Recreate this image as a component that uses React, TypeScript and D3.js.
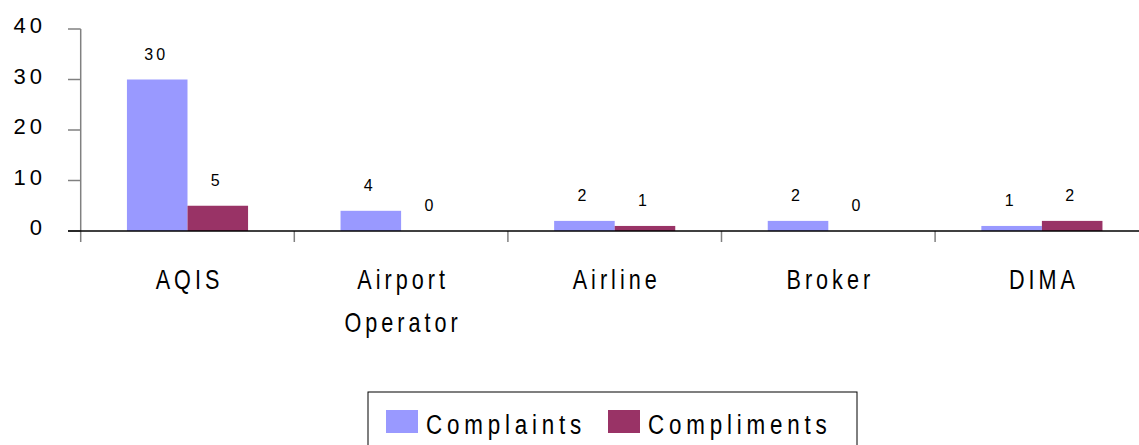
import * as d3 from "d3";
import { useRef, useEffect } from "react";

const categories = ["AQIS", "Airport\nOperator", "Airline", "Broker", "DIMA"];
const seriesNames = ["Complaints", "Compliments"];
const complaints = [30, 4, 2, 2, 1];
const compliments = [5, 0, 1, 0, 2];
const yTicks = [0, 10, 20, 30, 40];

const colors = ["#9999FF", "#993366"];
const fontFamily = "'Liberation Sans', Arial, sans-serif";
const squeeze = 0.8;

export default function App() {
  const width = 1139;
  const height = 445;
  const marginLeft = 80.7;
  const plotRight = 1148.7;
  const yTop = 29;
  const yBottom = 231;

  const ref = useRef(null);

  useEffect((): void => {
    if (!ref.current) return;
    const svg = d3.select(ref.current);
    svg.selectAll("*").remove();
    svg.attr("width", width).attr("height", height).attr("viewBox", [0, 0, width, height]);

    const x0 = d3.scaleBand<string>().domain(categories).range([marginLeft, plotRight]).padding(0);
    const step = x0.step();
    const groupWidth = step * 0.567;
    const x1 = d3
      .scaleBand<string>()
      .domain(seriesNames)
      .range([(step - groupWidth) / 2, (step + groupWidth) / 2]);

    const y = d3.scaleLinear().domain([0, 40]).range([yBottom, yTop]);

    const rows = categories.map((c, i) => ({ cat: c, values: [complaints[i], compliments[i]] }));

    // bars
    const groups = svg
      .append("g")
      .selectAll("g")
      .data(rows)
      .join("g")
      .attr("transform", (d) => `translate(${x0(d.cat)},0)`);

    groups
      .selectAll("rect")
      .data((d) => d.values.map((v, i) => ({ v, s: seriesNames[i], i })))
      .join("rect")
      .attr("x", (d) => x1(d.s)!)
      .attr("width", x1.bandwidth())
      .attr("y", (d) => y(d.v))
      .attr("height", (d) => yBottom - y(d.v))
      .attr("fill", (d) => colors[d.i]);

    // data labels
    groups
      .selectAll("text")
      .data((d) => d.values.map((v, i) => ({ v, s: seriesNames[i] })))
      .join("text")
      .attr("x", (d) => x1(d.s)! + x1.bandwidth() / 2 - 1)
      .attr("y", (d) => y(d.v) - 20)
      .attr("text-anchor", "middle")
      .attr("font-family", fontFamily)
      .attr("font-size", 16)
      .attr("letter-spacing", 3)
      .attr("fill", "#000")
      .text((d) => d.v);

    // y axis
    const yAxis = svg.append("g");
    yAxis
      .append("line")
      .attr("x1", marginLeft)
      .attr("x2", marginLeft)
      .attr("y1", yTop)
      .attr("y2", yBottom + 11)
      .attr("stroke", "#808080")
      .attr("stroke-width", 1.5);
    yAxis
      .selectAll("line.tick")
      .data(yTicks)
      .join("line")
      .attr("class", "tick")
      .attr("x1", 68)
      .attr("x2", marginLeft)
      .attr("y1", (d) => y(d))
      .attr("y2", (d) => y(d))
      .attr("stroke", "#808080")
      .attr("stroke-width", 1.5);
    yAxis
      .selectAll("text")
      .data(yTicks)
      .join("text")
      .attr("x", 46)
      .attr("y", (d) => y(d) + 4)
      .attr("text-anchor", "end")
      .attr("font-family", fontFamily)
      .attr("font-size", 22)
      .attr("letter-spacing", 4)
      .attr("fill", "#000")
      .text((d) => d);

    // x axis
    const xAxis = svg.append("g");
    xAxis
      .selectAll("line.tick")
      .data(categories.slice(1))
      .join("line")
      .attr("class", "tick")
      .attr("x1", (d) => x0(d)!)
      .attr("x2", (d) => x0(d)!)
      .attr("y1", yBottom)
      .attr("y2", yBottom + 11)
      .attr("stroke", "#808080")
      .attr("stroke-width", 1.5);
    xAxis
      .append("line")
      .attr("x1", 68)
      .attr("x2", width)
      .attr("y1", yBottom)
      .attr("y2", yBottom)
      .attr("stroke", "#000")
      .attr("stroke-width", 1.5);

    xAxis
      .selectAll("g.label")
      .data(categories)
      .join("g")
      .attr("class", "label")
      .attr("transform", (d) => `translate(${x0(d)! + step / 2 + 2},0) scale(${squeeze},1)`)
      .each(function (d) {
        const g = d3.select(this);
        d.split("\n").forEach((line, i) => {
          g.append("text")
            .attr("x", 0)
            .attr("y", 289 + i * 43)
            .attr("text-anchor", "middle")
            .attr("font-family", fontFamily)
            .attr("font-size", 27)
            .attr("letter-spacing", 5)
            .attr("fill", "#000")
            .text(line);
        });
      });

    // legend
    const legend = svg.append("g");
    legend
      .append("rect")
      .attr("x", 368)
      .attr("y", 392)
      .attr("width", 489)
      .attr("height", 80)
      .attr("fill", "none")
      .attr("stroke", "#000")
      .attr("stroke-width", 1);
    const legendX = [386, 608];
    const items = legend
      .selectAll("g")
      .data(seriesNames)
      .join("g")
      .attr("transform", (_, i) => `translate(${legendX[i]},0)`);
    items
      .append("rect")
      .attr("x", 0)
      .attr("y", 410)
      .attr("width", 32)
      .attr("height", 23)
      .attr("fill", (_, i) => colors[i]);
    items
      .append("text")
      .attr("transform", `translate(40,434) scale(${squeeze},1)`)
      .attr("font-family", fontFamily)
      .attr("font-size", 28)
      .attr("letter-spacing", 6)
      .attr("fill", "#000")
      .text((d) => d);
  }, []);

  return (
    <svg
      ref={ref}
      style={{ position: "absolute", left: 0, top: 0, display: "block", background: "#fff" }}
    />
  );
}
